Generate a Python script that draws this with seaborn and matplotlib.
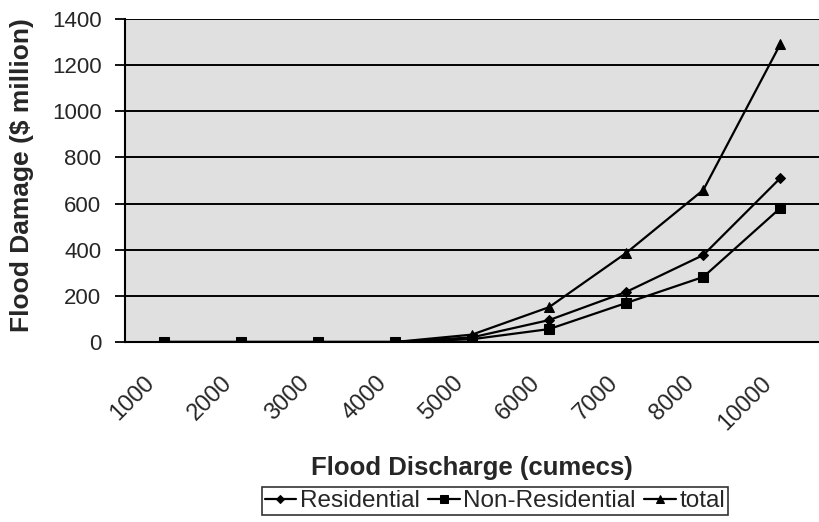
"""Flood damage vs flood discharge, redrawn from a scanned Excel chart."""

import matplotlib

matplotlib.use("Agg")
import matplotlib.pyplot as plt
import matplotlib.transforms as mtransforms
import pandas as pd
import seaborn as sns


DISCHARGE = ["1000", "2000", "3000", "4000", "5000", "6000", "7000", "8000", "10000"]
RESIDENTIAL = [0, 0, 0, 0, 20, 95, 217, 377, 711]
NON_RESIDENTIAL = [0, 0, 0, 0, 12, 56, 169, 282, 581]
TOTAL = [0, 0, 0, 0, 32, 151, 386, 659, 1292]

SERIES = ["Residential", "Non-Residential", "total"]
MARKERS = {"Residential": "D", "Non-Residential": "s", "total": "^"}
SIZES = {"Residential": 5.5, "Non-Residential": 6.5, "total": 7.5}


def main() -> None:
    frames = []
    for name, values in zip(SERIES, [RESIDENTIAL, NON_RESIDENTIAL, TOTAL]):
        frames.append(pd.DataFrame({"discharge": DISCHARGE, "damage": values, "series": name}))
    data = pd.concat(frames, ignore_index=True)

    sns.set_theme(style="white")
    plt.rcParams["font.family"] = ["Liberation Sans", "DejaVu Sans"]

    fig = plt.figure(figsize=(8.19, 5.22), dpi=100)
    ax = fig.add_axes([125 / 819, 1 - 342 / 522, 1 - 125 / 819, 323 / 522])
    ax.set_facecolor("#e0e0e0")

    for name in SERIES:
        sub = data[data["series"] == name]
        sns.lineplot(
            data=sub,
            x="discharge",
            y="damage",
            color="black",
            marker=MARKERS[name],
            markersize=SIZES[name],
            markeredgecolor="black",
            linewidth=1.6,
            label=name,
            ax=ax,
            legend=False,
        )

    ax.set_ylim(0, 1400)
    ax.set_xlim(-0.5, 8.4)
    ax.set_yticks(range(0, 1401, 200))
    for y in range(200, 1401, 200):
        ax.axhline(y, color="black", linewidth=1.4, zorder=1)

    ax.set_xticks(range(len(DISCHARGE)))
    ax.set_xticklabels(DISCHARGE, rotation=45, ha="right", va="center",
                       rotation_mode="anchor", fontsize=17)
    ax.set_xticks([i - 0.5 for i in range(len(DISCHARGE) + 1)], minor=True)
    ax.tick_params(axis="x", which="major", length=0, pad=18)
    ax.tick_params(axis="x", which="minor", length=7, width=1.3, color="black", direction="out")
    ax.tick_params(axis="y", length=7, width=1.3, color="black", direction="out", labelsize=16, pad=10)
    ax.tick_params(bottom=True, left=True)

    # nudge the slanted labels down-left, as Excel places them
    shift = mtransforms.ScaledTranslation(-0.12, -0.13, fig.dpi_scale_trans)
    for label in ax.get_xticklabels():
        label.set_transform(label.get_transform() + shift)

    for side in ["top", "right"]:
        ax.spines[side].set_visible(False)
    for side in ["left", "bottom"]:
        ax.spines[side].set_color("black")
        ax.spines[side].set_linewidth(1.5)

    ax.set_xlabel("Flood Discharge (cumecs)", fontsize=18.5, fontweight="bold")
    ax.set_ylabel("Flood Damage ($ million)", fontsize=19, fontweight="bold")
    ax.xaxis.set_label_coords((472 - 125) / 694, -(468 - 342) / 323)
    ax.yaxis.set_label_coords(-(125 - 22) / 694, (342 - 175) / 323)
    ax.xaxis.label.set_va("center")
    ax.yaxis.label.set_va("center")

    handles, labels = ax.get_legend_handles_labels()
    legend = fig.legend(
        handles,
        labels,
        loc="center",
        bbox_to_anchor=(495 / 819, 1 - 501 / 522),
        ncol=3,
        frameon=True,
        fancybox=False,
        edgecolor="black",
        fontsize=17.5,
        handlelength=1.3,
        handletextpad=0.15,
        columnspacing=0.35,
        borderpad=0.12,
        borderaxespad=0,
        markerscale=0.8,
    )
    legend.get_frame().set_linewidth(1.2)

    fig.savefig("out.png", dpi=100)
    plt.close(fig)


if __name__ == "__main__":
    main()
